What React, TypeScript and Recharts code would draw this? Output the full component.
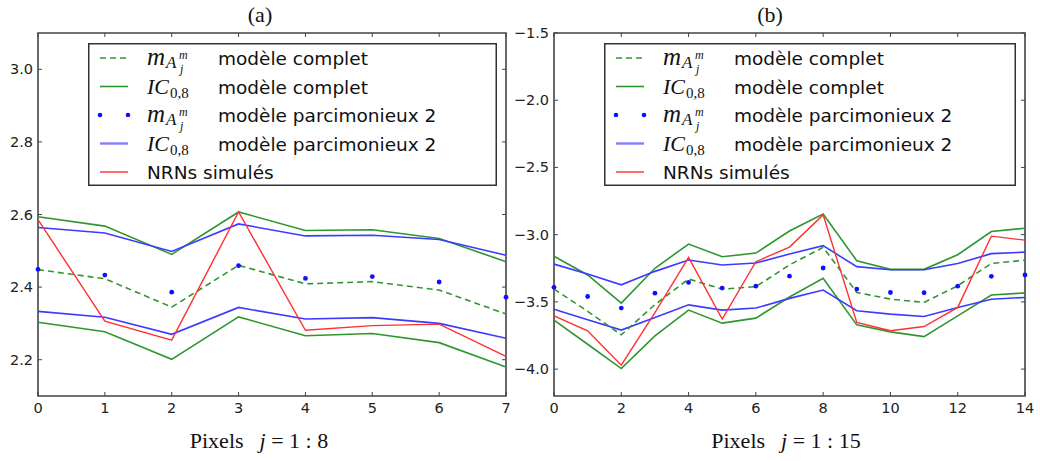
import { LineChart, Line, XAxis, YAxis, ReferenceArea } from 'recharts';

// pixel indices
const pixelsA = [0, 1, 2, 3, 4, 5, 6, 7];
const pixelsB = [0, 1, 2, 3, 4, 5, 6, 7, 8, 9, 10, 11, 12, 13, 14];

// (a) j = 1:8
const meanCompletA = [2.448, 2.423, 2.345, 2.46, 2.409, 2.415, 2.392, 2.326];
const icCompletHighA = [2.594, 2.568, 2.49, 2.607, 2.556, 2.558, 2.534, 2.47];
const icCompletLowA = [2.303, 2.277, 2.201, 2.318, 2.266, 2.272, 2.247, 2.18];
const meanParciA = [2.449, 2.433, 2.386, 2.459, 2.424, 2.429, 2.414, 2.372];
const icParciHighA = [2.564, 2.549, 2.498, 2.574, 2.541, 2.543, 2.531, 2.488];
const icParciLowA = [2.333, 2.317, 2.27, 2.344, 2.312, 2.316, 2.3, 2.259];
const nrnA = [2.586, 2.306, 2.254, 2.607, 2.281, 2.294, 2.298, 2.209];

// (b) j = 1:15
const meanCompletB = [-3.405, -3.57, -3.745, -3.52, -3.33, -3.405, -3.387, -3.225, -3.094, -3.43, -3.479, -3.504, -3.38, -3.214, -3.19];
const icCompletHighB = [-3.161, -3.3, -3.509, -3.25, -3.07, -3.164, -3.137, -2.973, -2.846, -3.194, -3.258, -3.258, -3.149, -2.977, -2.952];
const icCompletLowB = [-3.636, -3.815, -3.996, -3.753, -3.561, -3.658, -3.621, -3.464, -3.325, -3.671, -3.723, -3.758, -3.604, -3.449, -3.433];
const meanParciB = [-3.392, -3.46, -3.546, -3.435, -3.355, -3.397, -3.383, -3.309, -3.248, -3.405, -3.43, -3.432, -3.383, -3.31, -3.3];
const icParciHighB = [-3.219, -3.293, -3.373, -3.273, -3.189, -3.226, -3.211, -3.144, -3.082, -3.238, -3.261, -3.261, -3.214, -3.141, -3.13];
const icParciLowB = [-3.554, -3.633, -3.71, -3.616, -3.522, -3.561, -3.546, -3.474, -3.412, -3.566, -3.591, -3.609, -3.541, -3.48, -3.467];
const nrnB = [-3.604, -3.715, -3.971, -3.58, -3.169, -3.628, -3.201, -3.092, -2.853, -3.653, -3.715, -3.683, -3.541, -3.011, -3.041];

const ticksXA = [0, 1, 2, 3, 4, 5, 6, 7];
const ticksYA = [2.2, 2.4, 2.6, 2.8, 3.0];
const ticksXB = [0, 2, 4, 6, 8, 10, 12, 14];
const ticksYB = [-4.0, -3.5, -3.0, -2.5, -2.0, -1.5];

const legendLabels = ['modèle complet', 'modèle complet', 'modèle parcimonieux 2', 'modèle parcimonieux 2', 'NRNs simulés'];

const GREEN = '#2f962f';
const BLUE = '#3b3bff';
const RED = '#ff3030';
const SANS = '"DejaVu Sans", sans-serif';
const SERIF = '"Liberation Serif", serif';

const buildRows = (px: number[], s: number[][]) =>
  px.map((p, i) => ({
    pixel: p,
    meanComplet: s[0][i],
    icCompletHigh: s[1][i],
    icCompletLow: s[2][i],
    meanParci: s[3][i],
    icParciHigh: s[4][i],
    icParciLow: s[5][i],
    nrn: s[6][i],
  }));

const rowsA = buildRows(pixelsA, [meanCompletA, icCompletHighA, icCompletLowA, meanParciA, icParciHighA, icParciLowA, nrnA]);
const rowsB = buildRows(pixelsB, [meanCompletB, icCompletHighB, icCompletLowB, meanParciB, icParciHighB, icParciLowB, nrnB]);

const fmt = (v: number) => v.toFixed(1).replace('-', '\u2212');

type Box = { left: number; right: number; top: number; bottom: number };

const makeXTick = (box: Box) => (props: any) => {
  const { x, payload } = props;
  return (
    <g>
      <line x1={x} x2={x} y1={box.bottom} y2={box.bottom - 4} stroke="#444" />
      <line x1={x} x2={x} y1={box.top} y2={box.top + 4} stroke="#444" />
      <text x={x} y={box.bottom + 17} textAnchor="middle" fontSize={14.5} fontFamily={SANS} fill="#222">
        {payload.value}
      </text>
    </g>
  );
};

const makeYTick = (box: Box, label: (v: number) => string) => (props: any) => {
  const { y, payload } = props;
  return (
    <g>
      <line x1={box.left} x2={box.left + 4} y1={y} y2={y} stroke="#444" />
      <line x1={box.right} x2={box.right - 4} y1={y} y2={y} stroke="#444" />
      <text x={box.left - 5} y={y + 5} textAnchor="end" fontSize={14.5} fontFamily={SANS} fill="#222">
        {label(payload.value)}
      </text>
    </g>
  );
};

// m_{A_j^m}, drawn at row centre cy
const MathM = ({ x, cy }: { x: number; cy: number }) => (
  <g fontFamily={SERIF} fontStyle="italic" fill="#111">
    <text x={x} y={cy + 7} fontSize={25}>m</text>
    <text x={x + 19} y={cy + 10} fontSize={17}>A</text>
    <text x={x + 32} y={cy + 1} fontSize={12}>m</text>
    <text x={x + 33} y={cy + 15} fontSize={12}>j</text>
  </g>
);

// IC_{0,8}
const MathIC = ({ x, cy }: { x: number; cy: number }) => (
  <g fontFamily={SERIF} fill="#111">
    <text x={x} y={cy + 7} fontSize={22} fontStyle="italic">IC</text>
    <text x={x + 23} y={cy + 11} fontSize={15}>0,8</text>
  </g>
);

const LegendBox = ({ left, top, width }: { left: number; top: number; width: number }) => {
  const rowY = (i: number) => 15 + i * 28.5;
  return (
    <svg width={width} height={143} style={{ position: 'absolute', left, top }}>
      <rect x={0.75} y={0.75} width={width - 1.5} height={141.5} fill="#fff" stroke="#333" strokeWidth={1.5} />
      <line x1={12} x2={40} y1={rowY(0)} y2={rowY(0)} stroke={GREEN} strokeWidth={1.6} strokeDasharray="6 4" />
      <line x1={12} x2={40} y1={rowY(1)} y2={rowY(1)} stroke={GREEN} strokeWidth={1.6} />
      <circle cx={12} cy={rowY(2)} r={2.3} fill="#1010ff" />
      <circle cx={40} cy={rowY(2)} r={2.3} fill="#1010ff" />
      <line x1={12} x2={40} y1={rowY(3)} y2={rowY(3)} stroke="#8080ff" strokeWidth={2.4} />
      <line x1={12} x2={40} y1={rowY(4)} y2={rowY(4)} stroke={RED} strokeWidth={1.4} />
      <MathM x={59} cy={rowY(0)} />
      <MathIC x={59} cy={rowY(1)} />
      <MathM x={59} cy={rowY(2)} />
      <MathIC x={59} cy={rowY(3)} />
      {legendLabels.map((t, i) => (
        <text key={i} x={i < 4 ? 130 : 59} y={rowY(i) + 7} fontSize={18.5} fontFamily={SANS} fill="#111">
          {t}
        </text>
      ))}
    </svg>
  );
};

const Caption = ({ x, y, children }: { x: number; y: number; children: any }) => (
  <div
    style={{
      position: 'absolute',
      left: x,
      top: y,
      transform: 'translate(-50%, -50%)',
      whiteSpace: 'nowrap',
      fontFamily: SERIF,
      fontSize: 22,
      color: '#111',
    }}
  >
    {children}
  </div>
);

type PanelProps = {
  offsetX: number;
  width: number;
  box: Box;
  rows: any[];
  xDomain: [number, number];
  yDomain: [number, number];
  xTicks: number[];
  yTicks: number[];
  yLabel: (v: number) => string;
};

const Panel = ({ offsetX, width, box, rows, xDomain, yDomain, xTicks, yTicks, yLabel }: PanelProps) => (
  <div style={{ position: 'absolute', left: offsetX, top: 0 }}>
    <LineChart
      width={width}
      height={461}
      data={rows}
      margin={{ top: box.top, right: width - box.right, bottom: 461 - box.bottom - 30, left: 0 }}
    >
      <XAxis
        dataKey="pixel"
        type="number"
        domain={xDomain}
        ticks={xTicks}
        height={30}
        axisLine={false}
        tickLine={false}
        tick={makeXTick(box)}
        interval={0}
      />
      <YAxis
        type="number"
        domain={yDomain}
        ticks={yTicks}
        width={box.left}
        axisLine={false}
        tickLine={false}
        tick={makeYTick(box, yLabel)}
        allowDataOverflow
        interval={0}
      />
      <Line type="linear" dataKey="icCompletHigh" stroke={GREEN} strokeWidth={1.6} dot={false} isAnimationActive={false} />
      <Line type="linear" dataKey="icCompletLow" stroke={GREEN} strokeWidth={1.6} dot={false} isAnimationActive={false} />
      <Line type="linear" dataKey="icParciHigh" stroke={BLUE} strokeWidth={1.6} dot={false} isAnimationActive={false} />
      <Line type="linear" dataKey="icParciLow" stroke={BLUE} strokeWidth={1.6} dot={false} isAnimationActive={false} />
      <Line type="linear" dataKey="meanComplet" stroke={GREEN} strokeWidth={1.6} strokeDasharray="6 4" dot={false} isAnimationActive={false} />
      <Line
        type="linear"
        dataKey="meanParci"
        stroke="none"
        strokeWidth={0}
        dot={{ r: 2.4, fill: '#1010ff', stroke: 'none' }}
        isAnimationActive={false}
      />
      <Line type="linear" dataKey="nrn" stroke={RED} strokeWidth={1.4} dot={false} isAnimationActive={false} />
      <ReferenceArea
        x1={xDomain[0]}
        x2={xDomain[1]}
        y1={yDomain[0]}
        y2={yDomain[1]}
        fill="none"
        stroke="#444"
        strokeWidth={1.6}
        fillOpacity={0}
      />
    </LineChart>
  </div>
);

export default function App() {
  return (
    <div style={{ position: 'absolute', left: 0, top: 0, width: 1040, height: 461, background: '#fff', overflow: 'hidden' }}>
      <Panel
        offsetX={0}
        width={520}
        box={{ left: 38, right: 506, top: 33, bottom: 396 }}
        rows={rowsA}
        xDomain={[0, 7]}
        yDomain={[2.1, 3.1]}
        xTicks={ticksXA}
        yTicks={ticksYA}
        yLabel={fmt}
      />
      <Panel
        offsetX={500}
        width={540}
        box={{ left: 54, right: 525, top: 33, bottom: 396 }}
        rows={rowsB}
        xDomain={[0, 14]}
        yDomain={[-4.2, -1.5]}
        xTicks={ticksXB}
        yTicks={ticksYB}
        yLabel={fmt}
      />
      <div style={{ position: 'absolute', left: 88, top: 43 }} />
      <LegendBox left={88} top={43} width={409} />
      <LegendBox left={604} top={43} width={412} />
      <Caption x={260} y={15}>(a)</Caption>
      <Caption x={770} y={15}>(b)</Caption>
      <Caption x={259} y={441}>
        Pixels<i style={{ marginLeft: 16 }}>j</i> = 1 : 8
      </Caption>
      <Caption x={786} y={441}>
        Pixels<i style={{ marginLeft: 16 }}>j</i> = 1 : 15
      </Caption>
    </div>
  );
}
